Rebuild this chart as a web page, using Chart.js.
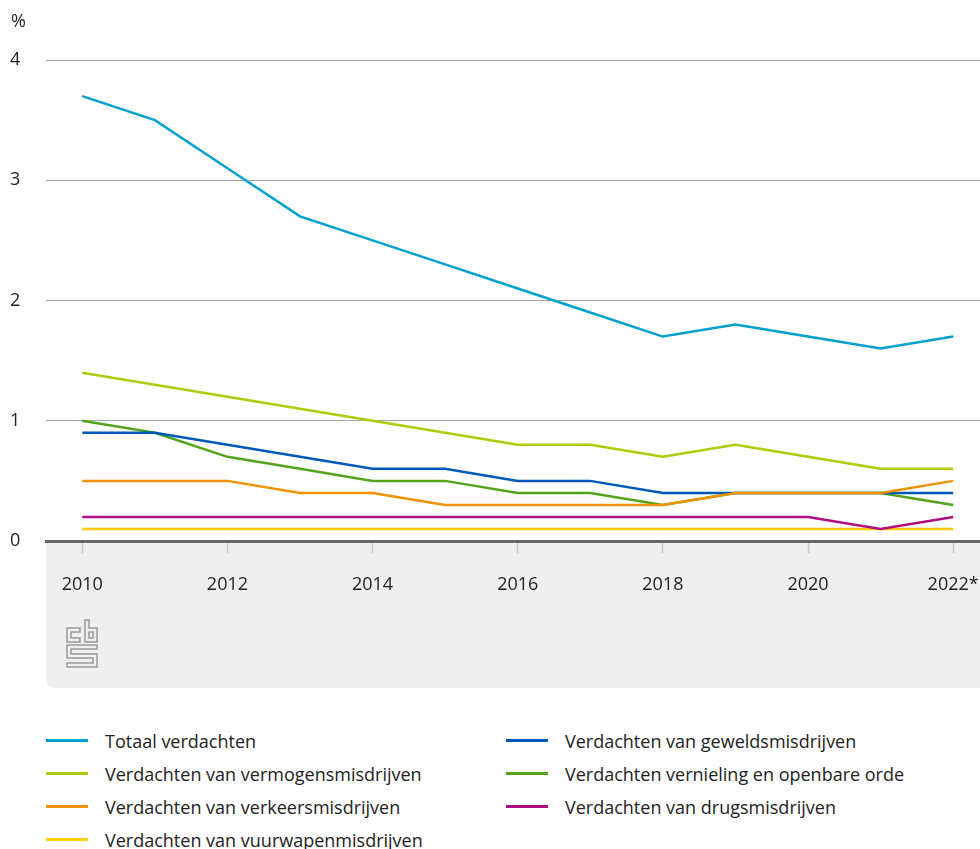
<!DOCTYPE html>
<html lang="nl">
<head>
<meta charset="utf-8">
<title>Verdachten naar delict</title>
<script src="https://cdn.jsdelivr.net/npm/chart.js@4.4.1/dist/chart.umd.min.js"></script>
<style>
  html, body { margin: 0; padding: 0; background: #fff; }
  body { width: 980px; height: 849px; position: relative; overflow: hidden; font-family: "Open Sans", "Noto Sans", sans-serif; }
  #wrap { position: absolute; left: 0; top: 0; width: 980px; height: 700px; }
  #legend { position: absolute; left: 46px; top: 724px; display: grid; grid-template-columns: 460px 460px; grid-auto-rows: 33px; }
  .item { display: flex; align-items: center; font-size: 18px; color: #222; white-space: nowrap; }
  .swatch { width: 42px; height: 3px; margin-right: 17px; }
</style>
</head>
<body>
<div id="wrap"><canvas id="chart"></canvas></div>
<div id="legend"></div>
<script>
const years = [2010, 2011, 2012, 2013, 2014, 2015, 2016, 2017, 2018, 2019, 2020, 2021, 2022];
const yearTicks = [2010, 2012, 2014, 2016, 2018, 2020, 2022];

const totaal     = [3.7, 3.5, 3.1, 2.7, 2.5, 2.3, 2.1, 1.9, 1.7, 1.8, 1.7, 1.6, 1.7];
const vermogen   = [1.4, 1.3, 1.2, 1.1, 1.0, 0.9, 0.8, 0.8, 0.7, 0.8, 0.7, 0.6, 0.6];
const verkeer    = [0.5, 0.5, 0.5, 0.4, 0.4, 0.3, 0.3, 0.3, 0.3, 0.4, 0.4, 0.4, 0.5];
const vuurwapen  = [0.1, 0.1, 0.1, 0.1, 0.1, 0.1, 0.1, 0.1, 0.1, 0.1, 0.1, 0.1, 0.1];
const geweld     = [0.9, 0.9, 0.8, 0.7, 0.6, 0.6, 0.5, 0.5, 0.4, 0.4, 0.4, 0.4, 0.4];
const vernieling = [1.0, 0.9, 0.7, 0.6, 0.5, 0.5, 0.4, 0.4, 0.3, 0.4, 0.4, 0.4, 0.3];
const drugs      = [0.2, 0.2, 0.2, 0.2, 0.2, 0.2, 0.2, 0.2, 0.2, 0.2, 0.2, 0.1, 0.2];

// legend is read row by row: left column, right column
const series = [
  { label: 'Totaal verdachten', data: totaal, color: '#00a1cd', order: 1 },
  { label: 'Verdachten van geweldsmisdrijven', data: geweld, color: '#0058b8', order: 5 },
  { label: 'Verdachten van vermogensmisdrijven', data: vermogen, color: '#afcb05', order: 2 },
  { label: 'Verdachten vernieling en openbare orde', data: vernieling, color: '#53a31d', order: 6 },
  { label: 'Verdachten van verkeersmisdrijven', data: verkeer, color: '#f39200', order: 3 },
  { label: 'Verdachten van drugsmisdrijven', data: drugs, color: '#af0e80', order: 4 },
  { label: 'Verdachten van vuurwapenmisdrijven', data: vuurwapen, color: '#ffcc00', order: 7 }
];

const FONT = '"Open Sans", "Noto Sans", sans-serif';
const XAXIS_H = 147;

// grey band under the x axis, the % unit and the cbs mark
const decor = {
  id: 'decor',
  beforeDraw(chart) {
    const { ctx, chartArea } = chart;
    const x0 = chartArea.left, y0 = chartArea.bottom, x1 = chart.width, y1 = y0 + XAXIS_H, r = 10;
    ctx.save();
    ctx.fillStyle = '#efefef';
    ctx.beginPath();
    ctx.moveTo(x0, y0);
    ctx.lineTo(x1, y0);
    ctx.lineTo(x1, y1);
    ctx.lineTo(x0 + r, y1);
    ctx.quadraticCurveTo(x0, y1, x0, y1 - r);
    ctx.closePath();
    ctx.fill();
    ctx.restore();
  },
  afterDraw(chart) {
    const { ctx, chartArea } = chart;
    ctx.save();
    ctx.fillStyle = '#222';
    ctx.font = '18px ' + FONT;
    ctx.textBaseline = 'middle';
    ctx.fillText('%', 11, 22);

    // logo
    const lx = chartArea.left + 20, ly = chartArea.bottom + 79;
    ctx.strokeStyle = '#9a9a9a';
    ctx.lineWidth = 1.5;
    const poly = pts => {
      ctx.beginPath();
      pts.forEach(([px, py], i) => i ? ctx.lineTo(lx + px, ly + py) : ctx.moveTo(lx + px, ly + py));
      ctx.closePath();
      ctx.stroke();
    };
    poly([[14, 8], [1, 8], [1, 22], [14, 22], [14, 18], [5, 18], [5, 12], [14, 12]]);
    poly([[19, 0], [23, 0], [23, 8], [31, 8], [31, 22], [19, 22]]);
    poly([[23, 12], [27, 12], [27, 18], [23, 18]]);
    poly([[1, 25], [31, 25], [31, 29], [5, 29], [5, 34], [31, 34], [31, 47], [1, 47], [1, 43], [27, 43], [27, 38], [1, 38]]);
    ctx.restore();
  }
};

const ctx = document.getElementById('chart').getContext('2d');
new Chart(ctx, {
  type: 'line',
  data: {
    datasets: series.map(s => ({
      label: s.label,
      data: s.data.map((v, i) => ({ x: years[i], y: v })),
      borderColor: s.color,
      backgroundColor: s.color,
      borderWidth: 2.5,
      pointRadius: 0,
      tension: 0,
      order: s.order
    }))
  },
  options: {
    responsive: true,
    maintainAspectRatio: false,
    animation: false,
    layout: { padding: { top: 60, left: 10, right: 0, bottom: 12 } },
    plugins: { legend: { display: false }, tooltip: { enabled: false } },
    scales: {
      x: {
        type: 'linear',
        min: 2009.5,
        max: 2022.37,
        afterBuildTicks: s => { s.ticks = yearTicks.map(v => ({ value: v })); },
        afterFit: s => { s.height = XAXIS_H; s.paddingLeft = 0; s.paddingRight = 0; },
        ticks: {
          callback: v => v === 2022 ? '2022*' : String(v),
          color: '#222',
          font: { family: FONT, size: 18 },
          padding: 21,
          maxRotation: 0,
          autoSkip: false
        },
        grid: { drawOnChartArea: false, drawTicks: true, tickLength: 12, tickColor: '#c8c8c8', tickWidth: 1.5 },
        border: { display: true, color: '#666', width: 3 }
      },
      y: {
        min: 0,
        max: 4,
        afterFit: s => { s.width = 36; },
        ticks: {
          stepSize: 1,
          color: '#222',
          font: { family: FONT, size: 18 },
          crossAlign: 'far',
          padding: 0
        },
        grid: {
          drawTicks: false,
          color: c => c.tick && c.tick.value === 0 ? 'rgba(0,0,0,0)' : '#a6a6a6',
          lineWidth: 1
        },
        border: { display: false }
      }
    }
  },
  plugins: [decor]
});

// html legend in two columns
const legend = document.getElementById('legend');
series.forEach(s => {
  const item = document.createElement('div');
  item.className = 'item';
  const sw = document.createElement('span');
  sw.className = 'swatch';
  sw.style.background = s.color;
  const txt = document.createElement('span');
  txt.textContent = s.label;
  item.appendChild(sw);
  item.appendChild(txt);
  legend.appendChild(item);
});
</script>
</body>
</html>
